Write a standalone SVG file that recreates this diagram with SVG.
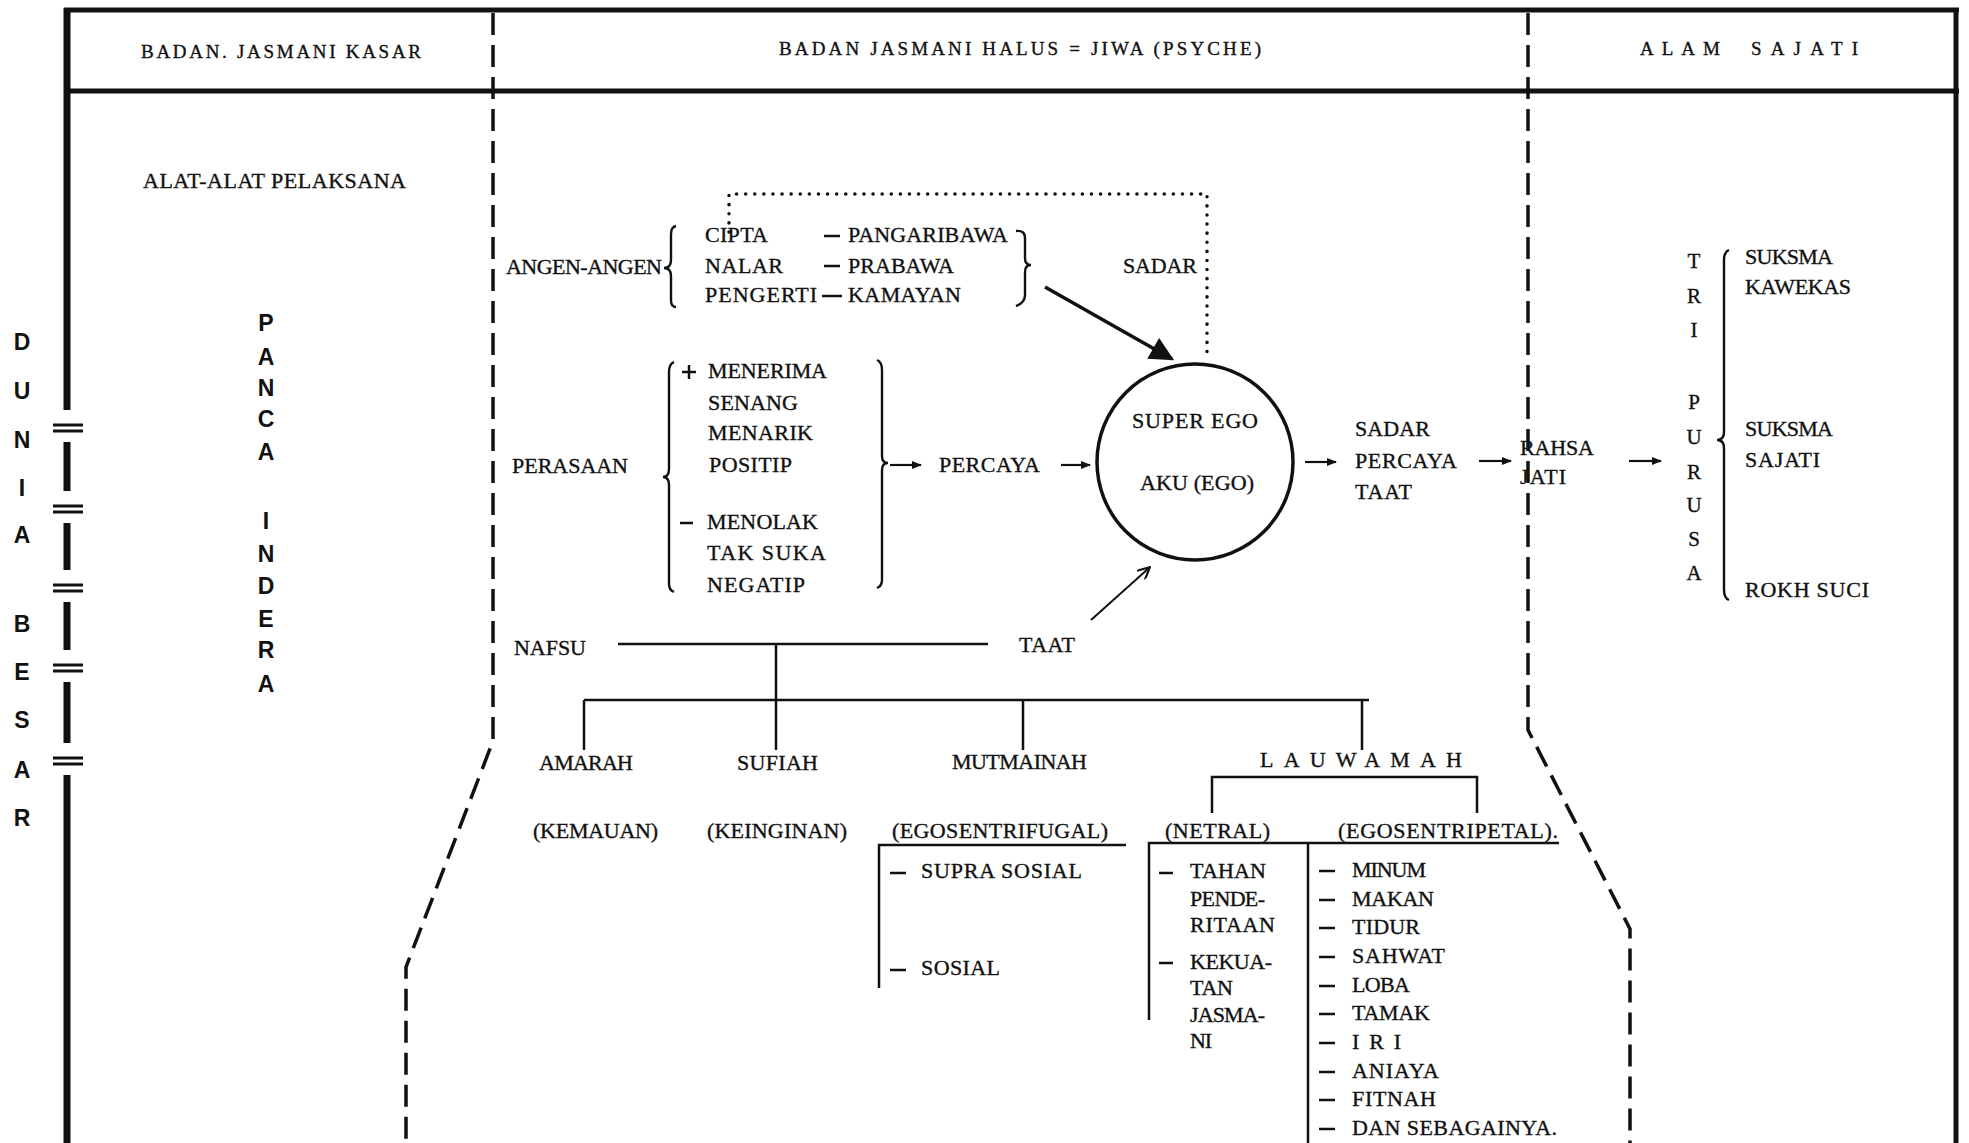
<svg xmlns="http://www.w3.org/2000/svg" width="1969" height="1143" viewBox="0 0 1969 1143">
<style>
.t{font-family:"Liberation Serif",serif;font-size:22px;fill:#111;stroke:#111;stroke-width:0.35}
.h{font-family:"Liberation Serif",serif;font-size:19px;fill:#111;stroke:#111;stroke-width:0.35}
.v{font-family:"Liberation Sans",sans-serif;font-size:23px;font-weight:bold;fill:#111;text-anchor:middle}
.vs{font-family:"Liberation Serif",serif;font-size:21px;fill:#111;stroke:#111;stroke-width:0.35;text-anchor:middle}
.ln{stroke:#111;stroke-width:2.5;fill:none}
.br{stroke:#111;stroke-width:2.4;fill:none}
.fr{stroke:#111;fill:none}
.dash{stroke:#111;stroke-width:3.5;fill:none;stroke-dasharray:22 10}
.ar{stroke:#111;stroke-width:2.2;fill:none;marker-end:url(#ah)}
</style>
<defs>
<marker id="ah" viewBox="0 0 10 10" refX="9" refY="5" markerWidth="11" markerHeight="10" markerUnits="userSpaceOnUse" orient="auto"><path d="M0,1 L10,5 L0,9 z" fill="#111"/></marker>
<marker id="big" viewBox="0 0 10 10" refX="9" refY="5" markerWidth="30" markerHeight="24" markerUnits="userSpaceOnUse" orient="auto"><path d="M0,0 L10,5 L0,10 z" fill="#111"/></marker>
<marker id="open" viewBox="0 0 10 10" refX="9" refY="5" markerWidth="14" markerHeight="12" markerUnits="userSpaceOnUse" orient="auto"><path d="M0,0 L10,5 L0,10" fill="none" stroke="#111" stroke-width="1.8"/></marker>
</defs>
<rect width="1969" height="1143" fill="#fff"/>

<g id="frame">
<path class="fr" stroke-width="5" d="M64 10 H1959 M64 91 H1959"/>
<path class="fr" stroke-width="5" d="M1956 8 V1143"/>
<path class="fr" stroke-width="7" d="M67 8 V410 M67 442 V491 M67 523 V570 M67 602 V650 M67 682 V743 M67 775 V1143"/>
<path class="fr" stroke-width="3" d="M53 425 H83 M53 431 H83 M53 506 H83 M53 512 H83 M53 585 H83 M53 591 H83 M53 665 H83 M53 671 H83 M53 758 H83 M53 764 H83"/>
<path class="dash" d="M493 13 V741 L406 967 V1143"/>
<path class="dash" d="M1528 13 V730 L1630 929 V1143"/>
</g>

<g id="headers">
<text class="h" x="141" y="58" textLength="280">BADAN. JASMANI KASAR</text>
<text class="h" x="779" y="55" textLength="482">BADAN JASMANI HALUS = JIWA (PSYCHE)</text>
<text class="h" x="1640" y="55" textLength="80">ALAM</text>
<text class="h" x="1751" y="55" textLength="107">SAJATI</text>
</g>

<g id="dunia-besar">
<text class="v" x="22" y="350">D</text>
<text class="v" x="22" y="399">U</text>
<text class="v" x="22" y="448">N</text>
<text class="v" x="22" y="496">I</text>
<text class="v" x="22" y="543">A</text>
<text class="v" x="22" y="632">B</text>
<text class="v" x="22" y="680">E</text>
<text class="v" x="22" y="728">S</text>
<text class="v" x="22" y="778">A</text>
<text class="v" x="22" y="826">R</text>
</g>

<g id="alat-alat">
<text class="t" x="143" y="188" textLength="263">ALAT-ALAT PELAKSANA</text>
</g>

<g id="panca-indera">
<text class="v" x="266" y="331">P</text>
<text class="v" x="266" y="365">A</text>
<text class="v" x="266" y="396">N</text>
<text class="v" x="266" y="427">C</text>
<text class="v" x="266" y="460">A</text>
<text class="v" x="266" y="529">I</text>
<text class="v" x="266" y="562">N</text>
<text class="v" x="266" y="594">D</text>
<text class="v" x="266" y="627">E</text>
<text class="v" x="266" y="658">R</text>
<text class="v" x="266" y="692">A</text>
</g>

<g id="angen-angen">
<text class="t" x="506" y="274" textLength="156">ANGEN-ANGEN</text>
<path class="br" d="M676 226 Q671 227 671 234 V260 Q671 268 664 268 Q671 268 671 276 V300 Q671 307 676 307"/>
<text class="t" x="705" y="242" textLength="63">CIPTA</text>
<text class="t" x="705" y="273" textLength="78">NALAR</text>
<text class="t" x="705" y="302" textLength="112">PENGERTI</text>
<path class="ln" stroke-width="2" d="M824 236 H840 M824 266 H840 M822 296 H842"/>
<text class="t" x="848" y="242" textLength="160">PANGARIBAWA</text>
<text class="t" x="848" y="273" textLength="106">PRABAWA</text>
<text class="t" x="848" y="302" textLength="113">KAMAYAN</text>
<path class="br" d="M1016 231 Q1025 230 1025 238 V258 Q1025 265 1031 265 Q1025 265 1025 272 V295 Q1025 303 1016 306"/>
<text class="t" x="1123" y="273" textLength="74">SADAR</text>
</g>

<g id="perasaan">
<text class="t" x="512" y="473" textLength="116">PERASAAN</text>
<path class="br" d="M674 362 Q669 364 669 372 V469 Q669 477 663 477 Q669 477 669 485 V584 Q669 590 674 592"/>
<path class="ln" stroke-width="2.4" d="M682 372 H696 M689 365 V379"/>
<text class="t" x="708" y="378" textLength="119">MENERIMA</text>
<text class="t" x="708" y="410" textLength="90">SENANG</text>
<text class="t" x="708" y="440" textLength="105">MENARIK</text>
<text class="t" x="709" y="472" textLength="83">POSITIP</text>
<path class="ln" stroke-width="2.4" d="M680 523 H693"/>
<text class="t" x="707" y="529" textLength="111">MENOLAK</text>
<text class="t" x="707" y="560" textLength="119">TAK SUKA</text>
<text class="t" x="707" y="592" textLength="98">NEGATIP</text>
<path class="br" d="M877 360 Q882 362 882 370 V456 Q882 463 888 463 Q882 463 882 470 V580 Q882 586 877 588"/>
<text class="t" x="939" y="472" textLength="101">PERCAYA</text>
</g>

<g id="ego">
<circle cx="1195" cy="462" r="98" fill="none" stroke="#111" stroke-width="3.5"/>
<text class="t" x="1132" y="428" textLength="126">SUPER EGO</text>
<text class="t" x="1140" y="490" textLength="114">AKU (EGO)</text>
</g>

<g id="sadar-percaya-taat">
<text class="t" x="1355" y="436" textLength="75">SADAR</text>
<text class="t" x="1355" y="468" textLength="102">PERCAYA</text>
<text class="t" x="1355" y="499" textLength="57">TAAT</text>
</g>

<g id="rahsa-jati">
<text class="t" x="1520" y="455" textLength="74">RAHSA</text>
<text class="t" x="1520" y="484" textLength="46">JATI</text>
</g>

<g id="tri-purusa">
<text class="vs" x="1694" y="268">T</text>
<text class="vs" x="1694" y="303">R</text>
<text class="vs" x="1694" y="337">I</text>
<text class="vs" x="1694" y="409">P</text>
<text class="vs" x="1694" y="444">U</text>
<text class="vs" x="1694" y="479">R</text>
<text class="vs" x="1694" y="512">U</text>
<text class="vs" x="1694" y="546">S</text>
<text class="vs" x="1694" y="580">A</text>
<path class="br" d="M1729 250 Q1724 252 1724 260 V432 Q1724 440 1717 440 Q1724 440 1724 448 V590 Q1724 598 1729 600"/>
<text class="t" x="1745" y="264" textLength="88">SUKSMA</text>
<text class="t" x="1745" y="294" textLength="106">KAWEKAS</text>
<text class="t" x="1745" y="436" textLength="88">SUKSMA</text>
<text class="t" x="1745" y="467" textLength="75">SAJATI</text>
<text class="t" x="1745" y="597" textLength="124">ROKH SUCI</text>
</g>

<g id="nafsu">
<text class="t" x="514" y="655" textLength="72">NAFSU</text>
<text class="t" x="1019" y="652" textLength="56">TAAT</text>
</g>

<g id="amarah">
<text class="t" x="539" y="770" textLength="94">AMARAH</text>
<text class="t" x="533" y="838" textLength="125">(KEMAUAN)</text>
</g>

<g id="sufiah">
<text class="t" x="737" y="770" textLength="81">SUFIAH</text>
<text class="t" x="707" y="838" textLength="140">(KEINGINAN)</text>
</g>

<g id="mutmainah">
<text class="t" x="952" y="769" textLength="135">MUTMAINAH</text>
<text class="t" x="892" y="838" textLength="216">(EGOSENTRIFUGAL)</text>
<path class="ln" stroke-width="2.4" d="M890 873 H906 M890 970 H906"/>
<text class="t" x="921" y="878" textLength="161">SUPRA SOSIAL</text>
<text class="t" x="921" y="975" textLength="79">SOSIAL</text>
</g>

<g id="lauwamah">
<text class="t" x="1260" y="767" textLength="202">LAUWAMAH</text>
<text class="t" x="1165" y="838" textLength="105">(NETRAL)</text>
<text class="t" x="1338" y="838" textLength="220">(EGOSENTRIPETAL).</text>
<path class="ln" stroke-width="2.4" d="M1159 873 H1173 M1159 963 H1173"/>
<text class="t" x="1190" y="878" textLength="76">TAHAN</text>
<text class="t" x="1190" y="906" textLength="75">PENDE-</text>
<text class="t" x="1190" y="932" textLength="85">RITAAN</text>
<text class="t" x="1190" y="969" textLength="82">KEKUA-</text>
<text class="t" x="1190" y="995" textLength="43">TAN</text>
<text class="t" x="1190" y="1022" textLength="75">JASMA-</text>
<text class="t" x="1190" y="1048" textLength="22">NI</text>
<path class="ln" stroke-width="2.4" d="M1319 871 H1335 M1319 900 H1335 M1319 928 H1335 M1319 957 H1335 M1319 986 H1335 M1319 1014 H1335 M1319 1043 H1335 M1319 1072 H1335 M1319 1100 H1335 M1319 1129 H1335"/>
<text class="t" x="1352" y="877" textLength="74">MINUM</text>
<text class="t" x="1352" y="906" textLength="82">MAKAN</text>
<text class="t" x="1352" y="934" textLength="68">TIDUR</text>
<text class="t" x="1352" y="963" textLength="93">SAHWAT</text>
<text class="t" x="1352" y="992" textLength="58">LOBA</text>
<text class="t" x="1352" y="1020" textLength="78">TAMAK</text>
<text class="t" x="1352" y="1049" textLength="49">I R I</text>
<text class="t" x="1352" y="1078" textLength="87">ANIAYA</text>
<text class="t" x="1352" y="1106" textLength="84">FITNAH</text>
<text class="t" x="1352" y="1135" textLength="205">DAN SEBAGAINYA.</text>
</g>

<g id="connectors">
<path fill="none" stroke="#111" stroke-width="3.5" stroke-linecap="round" stroke-dasharray="0.1 9" d="M729 232 V194 H1207 V356"/>
<path fill="none" stroke="#111" stroke-width="3.5" marker-end="url(#big)" d="M1045 287 L1172 359"/>
<path fill="none" stroke="#111" stroke-width="2" marker-end="url(#open)" d="M1091 620 L1149 568"/>
<path class="ar" d="M890 465 H921"/>
<path class="ar" d="M1061 465 H1090"/>
<path class="ar" d="M1305 462 H1336"/>
<path class="ar" d="M1479 461 H1511"/>
<path class="ar" d="M1629 461 H1661"/>
<path class="ln" d="M618 644 H988 M776 644 V700 M584 700 H1369 M584 700 V750 M776 700 V750 M1023 700 V750 M1362 700 V750"/>
<path class="ln" d="M1212 813 V777 H1477 V813"/>
<path class="ln" d="M879 988 V845 H1126"/>
<path class="ln" d="M1149 1020 V843 H1559 M1308 843 V1143"/>
</g>
</svg>
